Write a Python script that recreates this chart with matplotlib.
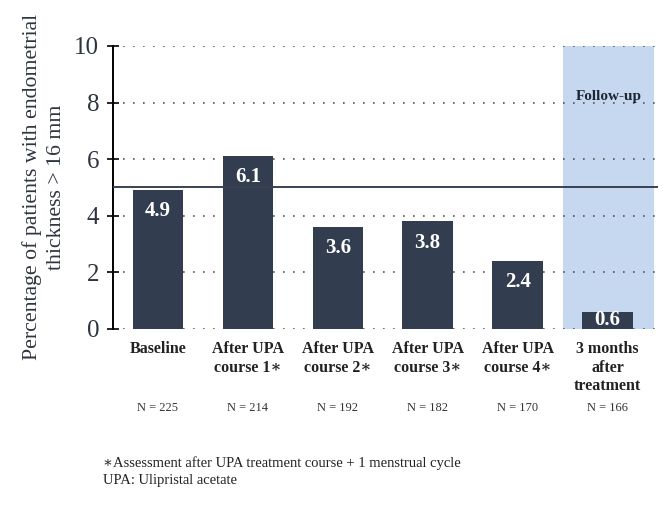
import matplotlib
matplotlib.use("Agg")
import matplotlib.pyplot as plt
from matplotlib.patches import Rectangle

categories = ["Baseline", "After UPA\ncourse 1\u2217", "After UPA\ncourse 2\u2217",
              "After UPA\ncourse 3\u2217", "After UPA\ncourse 4\u2217",
              "3 months\nafter\ntreatment"]
values = [4.9, 6.1, 3.6, 3.8, 2.4, 0.6]
n_labels = ["N = 225", "N = 214", "N = 192", "N = 182", "N = 170", "N = 166"]
yticks = [0, 2, 4, 6, 8, 10]

SERIF = ["Liberation Serif", "DejaVu Serif"]
BAR = "#323d50"
SHADE = "#c6d8ef"
TXT = "#2e3440"


def main():
    plt.rcParams['font.family'] = SERIF
    fig = plt.figure(figsize=(6.72, 5.05), dpi=100)
    ax = fig.add_axes([0.168, 0.349, 0.811, 0.560])

    x = list(range(len(values)))

    # follow-up shaded region behind the last bar
    ax.add_patch(Rectangle((4.5, 0), 1.02, 10, color=SHADE, zorder=0, lw=0))
    ax.text(5.01, 8.2, "Follow-up", ha='center', va='center',
            fontsize=11, fontweight='bold', color='#1e2633')

    ax.bar(x, values, width=0.56, color=BAR, zorder=2)
    for xi, v in zip(x, values):
        ax.text(xi, max(v - 0.75, v / 2), f"{v}", ha='center', va='center',
                color='white', fontsize=15, fontweight='bold', zorder=3)

    ax.axhline(5, color='#3a4150', lw=1.4, zorder=3)

    ax.set_xlim(-0.5, 5.56)
    ax.set_ylim(0, 10)
    ax.set_yticks(yticks)
    ax.yaxis.grid(True, linestyle=(0, (1, 5)), color='#555555', lw=1.2)
    ax.set_axisbelow(True)
    ax.tick_params(axis='y', labelsize=18, direction='inout', length=8,
                   width=1.2, pad=6, labelcolor=TXT)
    ax.set_xticks([])
    for s in ['top', 'right', 'bottom']:
        ax.spines[s].set_visible(False)
    ax.spines['left'].set_linewidth(1.4)

    ax.set_ylabel("Percentage of patients with endometrial\nthickness > 16 mm",
                  fontsize=15.7, labelpad=6, linespacing=1.3, color=TXT)

    for xi, c, n in zip(x, categories, n_labels):
        ax.text(xi, -0.45, c, ha='center', va='top', fontsize=11.5,
                fontweight='bold', linespacing=1.2, color='#222222')
        ax.text(xi, -2.8, n, ha='center', va='center', fontsize=9,
                color='#333333')

    fig.text(0.153, 0.066, "\u2217Assessment after UPA treatment course + 1 menstrual cycle\nUPA: Ulipristal acetate",
             ha='left', va='center', fontsize=10.5, linespacing=1.35, color='#222222')

    fig.savefig("out.png", dpi=100)


if __name__ == "__main__":
    main()
